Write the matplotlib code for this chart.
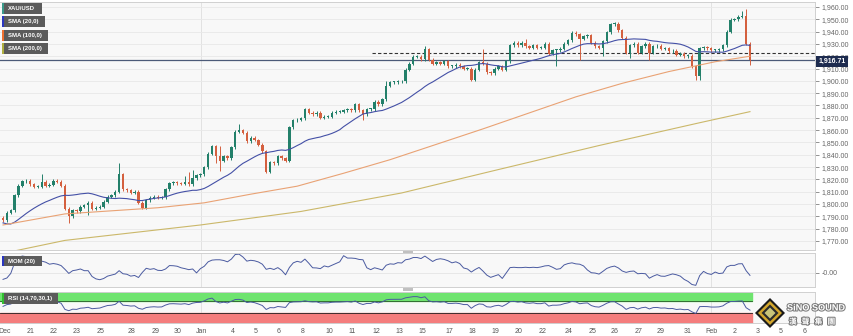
import numpy as np
import pandas as pd
import matplotlib
matplotlib.use('Agg')
import matplotlib.pyplot as plt
import matplotlib.patheffects as pe
from matplotlib.patches import Rectangle, Polygon
from matplotlib.transforms import blended_transform_factory

# XAU/USD, candles de 4 horas (Dec -> Feb)
first_open = 1789
closes = [
    1787, 1793, 1795, 1807, 1815, 1818.5, 1819, 1816, 1814, 1814,
    1818, 1815, 1815.5, 1819, 1818, 1815, 1796, 1790, 1795, 1794,
    1798, 1799, 1801, 1796, 1797, 1798, 1802, 1806, 1807, 1810,
    1824, 1812, 1811, 1809, 1810, 1801, 1797, 1803, 1805, 1806,
    1805, 1805.5, 1812, 1817, 1817.5, 1817, 1816.5, 1818, 1816, 1821,
    1823.5, 1824, 1830, 1841, 1847, 1839, 1835, 1839, 1837, 1846,
    1858.5, 1860, 1858, 1851, 1854, 1852, 1848, 1843, 1826, 1834,
    1833, 1839, 1837, 1835, 1862.5, 1868, 1868.5, 1869.5, 1877, 1874,
    1873, 1874, 1870, 1871, 1871, 1874, 1875, 1875, 1876, 1877,
    1876, 1881, 1876, 1873, 1877, 1877, 1883, 1881, 1885, 1896,
    1899, 1899, 1899.5, 1899.5, 1909, 1914, 1919.6, 1919.6, 1917.6, 1925.8,
    1917, 1914, 1915, 1914, 1916, 1912, 1912, 1913, 1912, 1910,
    1910, 1901, 1909, 1915, 1914, 1907, 1906, 1910, 1912, 1909,
    1916, 1929, 1931, 1929, 1931, 1928, 1927, 1929, 1927, 1927,
    1930, 1922, 1925, 1925, 1926, 1930, 1933, 1939, 1938, 1934,
    1936, 1937, 1931, 1928, 1927, 1932, 1939.6, 1946, 1946.5, 1941,
    1935, 1923, 1929, 1930, 1923, 1928, 1930, 1923, 1928, 1928.5,
    1926, 1926.5, 1924, 1924.5, 1921, 1922, 1920, 1920.5, 1912, 1904,
    1926.5, 1927, 1926.6, 1925, 1925, 1925.6, 1929, 1940, 1949.6, 1950,
    1952, 1953, 1930, 1916.7,
]
# 20 candles antes da janela (para SMA 20 / MOM / RSI)
pre_closes = [1806.5, 1808.5, 1797, 1777.5, 1770, 1769.5, 1772, 1772, 1773, 1777,
              1784, 1784, 1790.5, 1792, 1793, 1794, 1786, 1792, 1789, 1786]
# pavios longos: indice -> (max, min)
wicks = {10: (1824, None), 17: (None, 1785), 22: (None, 1791), 30: (1833.5, None),
         47: (1823, None), 48: (1826, None), 49: (1828, None), 55: (None, 1833),
         56: (1847, 1827), 61: (1865, None), 93: (None, 1868), 99: (1900, None),
         109: (1928, None), 124: (1926, None), 135: (1934, None), 143: (None, 1912),
         149: (None, 1917), 155: (None, 1920), 162: (None, 1918.5), 167: (None, 1917),
         179: (None, 1901), 180: (None, 1901), 191: (1957, None), 192: (1958, None),
         193: (None, 1913)}
wick = 1.2

sma100_idx = [0, 16, 28, 40, 52, 64, 76, 88, 100, 112, 124, 136, 148, 160, 172, 184, 193]
sma100_val = [1783, 1792, 1794.5, 1797, 1801, 1808, 1814.5, 1825, 1836, 1848.5, 1861,
              1874, 1887, 1898, 1907.5, 1915.5, 1920]
sma200_idx = [0, 16, 51, 77, 103, 128, 154, 180, 193]
sma200_val = [1760, 1770.5, 1783, 1794, 1809, 1828, 1847.5, 1866, 1875]

last_price = 1916.71
resist = 1922.5
resist_from = 95.4

tick_labels = ['Dec', '21', '22', '23', '25', '28', '29', '30', 'Jan', '4', '5', '6', '8',
               '10', '11', '12', '13', '15', '17', '18', '19', '20', '22', '24', '25', '26',
               '27', '29', '31', 'Feb', '2', '3', '5', '6']
tick_pos = [0.5, 7.2, 13.2, 19.1, 25.1, 33.3, 39.3, 45.2, 51.2, 59.4, 65.4, 71.1, 77.3,
            84.2, 90.2, 96.4, 102.3, 108.3, 115.2, 121.2, 127.1, 133.1, 139.3, 146.0,
            152.2, 158.1, 164.1, 170.0, 177.0, 183.0, 188.9, 195.1, 201.0, 207.0]

# indicadores
allc = pd.Series(pre_closes + closes, dtype=float)
sma20 = allc.rolling(20).mean().iloc[20:].values
mom = (allc - allc.shift(20)).iloc[20:].values
d = allc.diff()
up = d.clip(lower=0).ewm(alpha=1/14, adjust=False).mean()
dn = (-d.clip(upper=0)).ewm(alpha=1/14, adjust=False).mean()
rsi = (100 - 100 / (1 + up / dn)).iloc[20:].values

n = len(closes)
x = np.arange(n)
opens = np.array([first_open] + closes[:-1], dtype=float)
cl = np.array(closes, dtype=float)
highs = np.maximum(opens, cl) + wick
lows = np.minimum(opens, cl) - wick
for k, (h, l) in wicks.items():
    if h is not None:
        highs[k] = h
    if l is not None:
        lows[k] = l

W, H = 854, 336
fig = plt.figure(figsize=(8.54, 3.36), dpi=100)
fig.patch.set_facecolor('white')
sans = ['Liberation Sans', 'DejaVu Sans']

def fx(px):
    return px / W

def fy(py):
    return 1 - py / H

ax = fig.add_axes([0, fy(250), fx(815), 248 / H])
mom_ax = fig.add_axes([0, fy(286.7), fx(815), 33.4 / H], sharex=ax)
rsi_ax = fig.add_axes([0, fy(322.7), fx(815), 31 / H], sharex=ax)

for a in (ax, mom_ax, rsi_ax):
    a.set_facecolor('#f8f8f8')
    for s in a.spines.values():
        s.set_color('#d0d0d0')
        s.set_linewidth(0.7)
    a.spines['left'].set_visible(False)
    for p in (tick_pos[8], tick_pos[29]):
        a.axvline(p, color='#e2e2e2', lw=0.7, zorder=0)

# grafico principal
ax.set_xlim(-0.78, 209.8)
ax.set_ylim(1762.7, 1964)
ax.set_yticks(np.arange(1770, 1961, 10))
ax.set_yticklabels([f'{v:,.2f}' for v in np.arange(1770, 1961, 10)], family=sans)
ax.yaxis.tick_right()
ax.tick_params(axis='y', labelsize=5, colors='#666', length=3, width=0.5, pad=2)
ax.tick_params(axis='x', bottom=False, labelbottom=False)
ax.grid(axis='y', color='#e8e8e8', lw=0.6, zorder=0)

up_mask = cl >= opens
cols = np.where(up_mask, '#23806a', '#d4603f')
ax.vlines(x, lows, highs, colors=cols, lw=0.7, zorder=3)
body = np.maximum(np.abs(cl - opens), 0.6)
ax.bar(x, body, bottom=np.minimum(opens, cl), width=0.62, color=cols, lw=0, zorder=4)

ax.plot(x, sma20, color='#4450a6', lw=0.8, zorder=5)
ax.plot(sma100_idx, sma100_val, color='#e9a274', lw=0.8, zorder=5)
ax.plot(sma200_idx, sma200_val, color='#cbb86a', lw=0.8, zorder=5)

ax.axhline(last_price, color='#4c5a78', lw=0.9, zorder=2)
ax.plot([resist_from, 209.8], [resist, resist], color='#333', lw=0.8, ls=(0, (3, 2)), zorder=2)
tr = blended_transform_factory(ax.transAxes, ax.transData)
ax.text(1.004, last_price - 1.2, '1,916.71', transform=tr, ha='left', va='center', fontsize=5,
        color='white', fontweight='bold', clip_on=False, family=sans, zorder=20,
        bbox=dict(boxstyle='square,pad=0.3', fc='#1d2b4f', ec='none'))

# MOM
mom_ax.plot(x, mom, color='#4a5aa0', lw=0.7)
mom_ax.set_ylim(-41, 57)
mom_ax.axhline(0, color='#e4e4e4', lw=0.6, zorder=0)
mom_ax.yaxis.tick_right()
mom_ax.set_yticks([0])
mom_ax.set_yticklabels(['-0.00'], family=sans)
mom_ax.tick_params(axis='y', labelsize=5, colors='#666', length=3, width=0.5, pad=2)
mom_ax.tick_params(axis='x', bottom=False, labelbottom=False)

# RSI
rsi_ax.set_ylim(0, 100)
rsi_ax.fill_between([-0.78, n - 0.6], 70, 100, color='#6fe46f', zorder=1)
rsi_ax.fill_between([-0.78, n - 0.6], 0, 30, color='#f47d7d', zorder=1)
rsi_ax.plot([-0.78, n - 0.6], [70, 70], color='#2a5a2a', lw=0.6, zorder=2)
rsi_ax.plot([-0.78, n - 0.6], [30, 30], color='#222', lw=0.6, zorder=2)
rsi_ax.plot(x, rsi, color='#4a5aa0', lw=0.7, zorder=3)
rsi_ax.set_yticks([])
rsi_ax.set_xticks(tick_pos)
rsi_ax.set_xticklabels(tick_labels, family=sans)
rsi_ax.tick_params(axis='x', labelsize=5, colors='#555', length=0, pad=4)


def label_box(x0, y0, w, h, text, accent):
    fig.add_artist(Rectangle((fx(x0), fy(y0 + h)), fx(w), h / H, transform=fig.transFigure,
                             fc='#5b5b5b', ec='none', zorder=10))
    fig.add_artist(Rectangle((fx(x0), fy(y0 + h)), fx(1.5), h / H, transform=fig.transFigure,
                             fc=accent, ec='none', zorder=11))
    fig.text(fx(x0 + 6), fy(y0 + h / 2), text, fontsize=4.3, color='white', family=sans,
             fontweight='bold', va='center', ha='left', zorder=12)


label_box(2, 3, 40, 10.5, 'XAU/USD', '#3a9a8a')
label_box(2, 16, 43, 11, 'SMA (20,0)', '#2a36c0')
label_box(2, 29.5, 46, 11, 'SMA (100,0)', '#f07030')
label_box(2, 43, 46, 11, 'SMA (200,0)', '#b0b040')
label_box(2, 256, 40, 10, 'MOM (20)', '#2a36c0')
label_box(2, 293, 56, 11, 'RSI (14,70,30,1)', '#30c030')

# alcas entre paineis
for yy in (250.5, 288.3):
    fig.add_artist(Rectangle((fx(403), fy(yy + 2.5)), fx(10), 2.5 / H,
                             transform=fig.transFigure, fc='#c0c0c0', ec='none'))

# marca d'agua
def diamond(cx, cy, r, color, z):
    pts = [(fx(cx), fy(cy - r)), (fx(cx + r), fy(cy)), (fx(cx), fy(cy + r)), (fx(cx - r), fy(cy))]
    fig.add_artist(Polygon(pts, closed=True, transform=fig.transFigure, fc=color, ec='none', zorder=z))


diamond(770, 313, 15, '#1a1a1a', 20)
diamond(770, 313, 12, '#d3a62c', 21)
diamond(770, 313, 8.5, '#2b2b2b', 22)
diamond(770, 313, 5.5, '#c9c57a', 23)
stroke = [pe.withStroke(linewidth=1.5, foreground='#7a7a7a')]
fig.text(fx(787), fy(308), 'SiNO SOUND', fontsize=6.6, fontweight='bold', color='white',
         va='center', ha='left', family=sans, path_effects=stroke, zorder=24)
fig.text(fx(789), fy(321.5), '漢   聲   集   團', fontsize=5.5, fontweight='bold', color='white',
         va='center', ha='left', family=['Noto Sans CJK TC', 'DejaVu Sans'],
         path_effects=stroke, zorder=24)

fig.savefig('out.png', dpi=100)
